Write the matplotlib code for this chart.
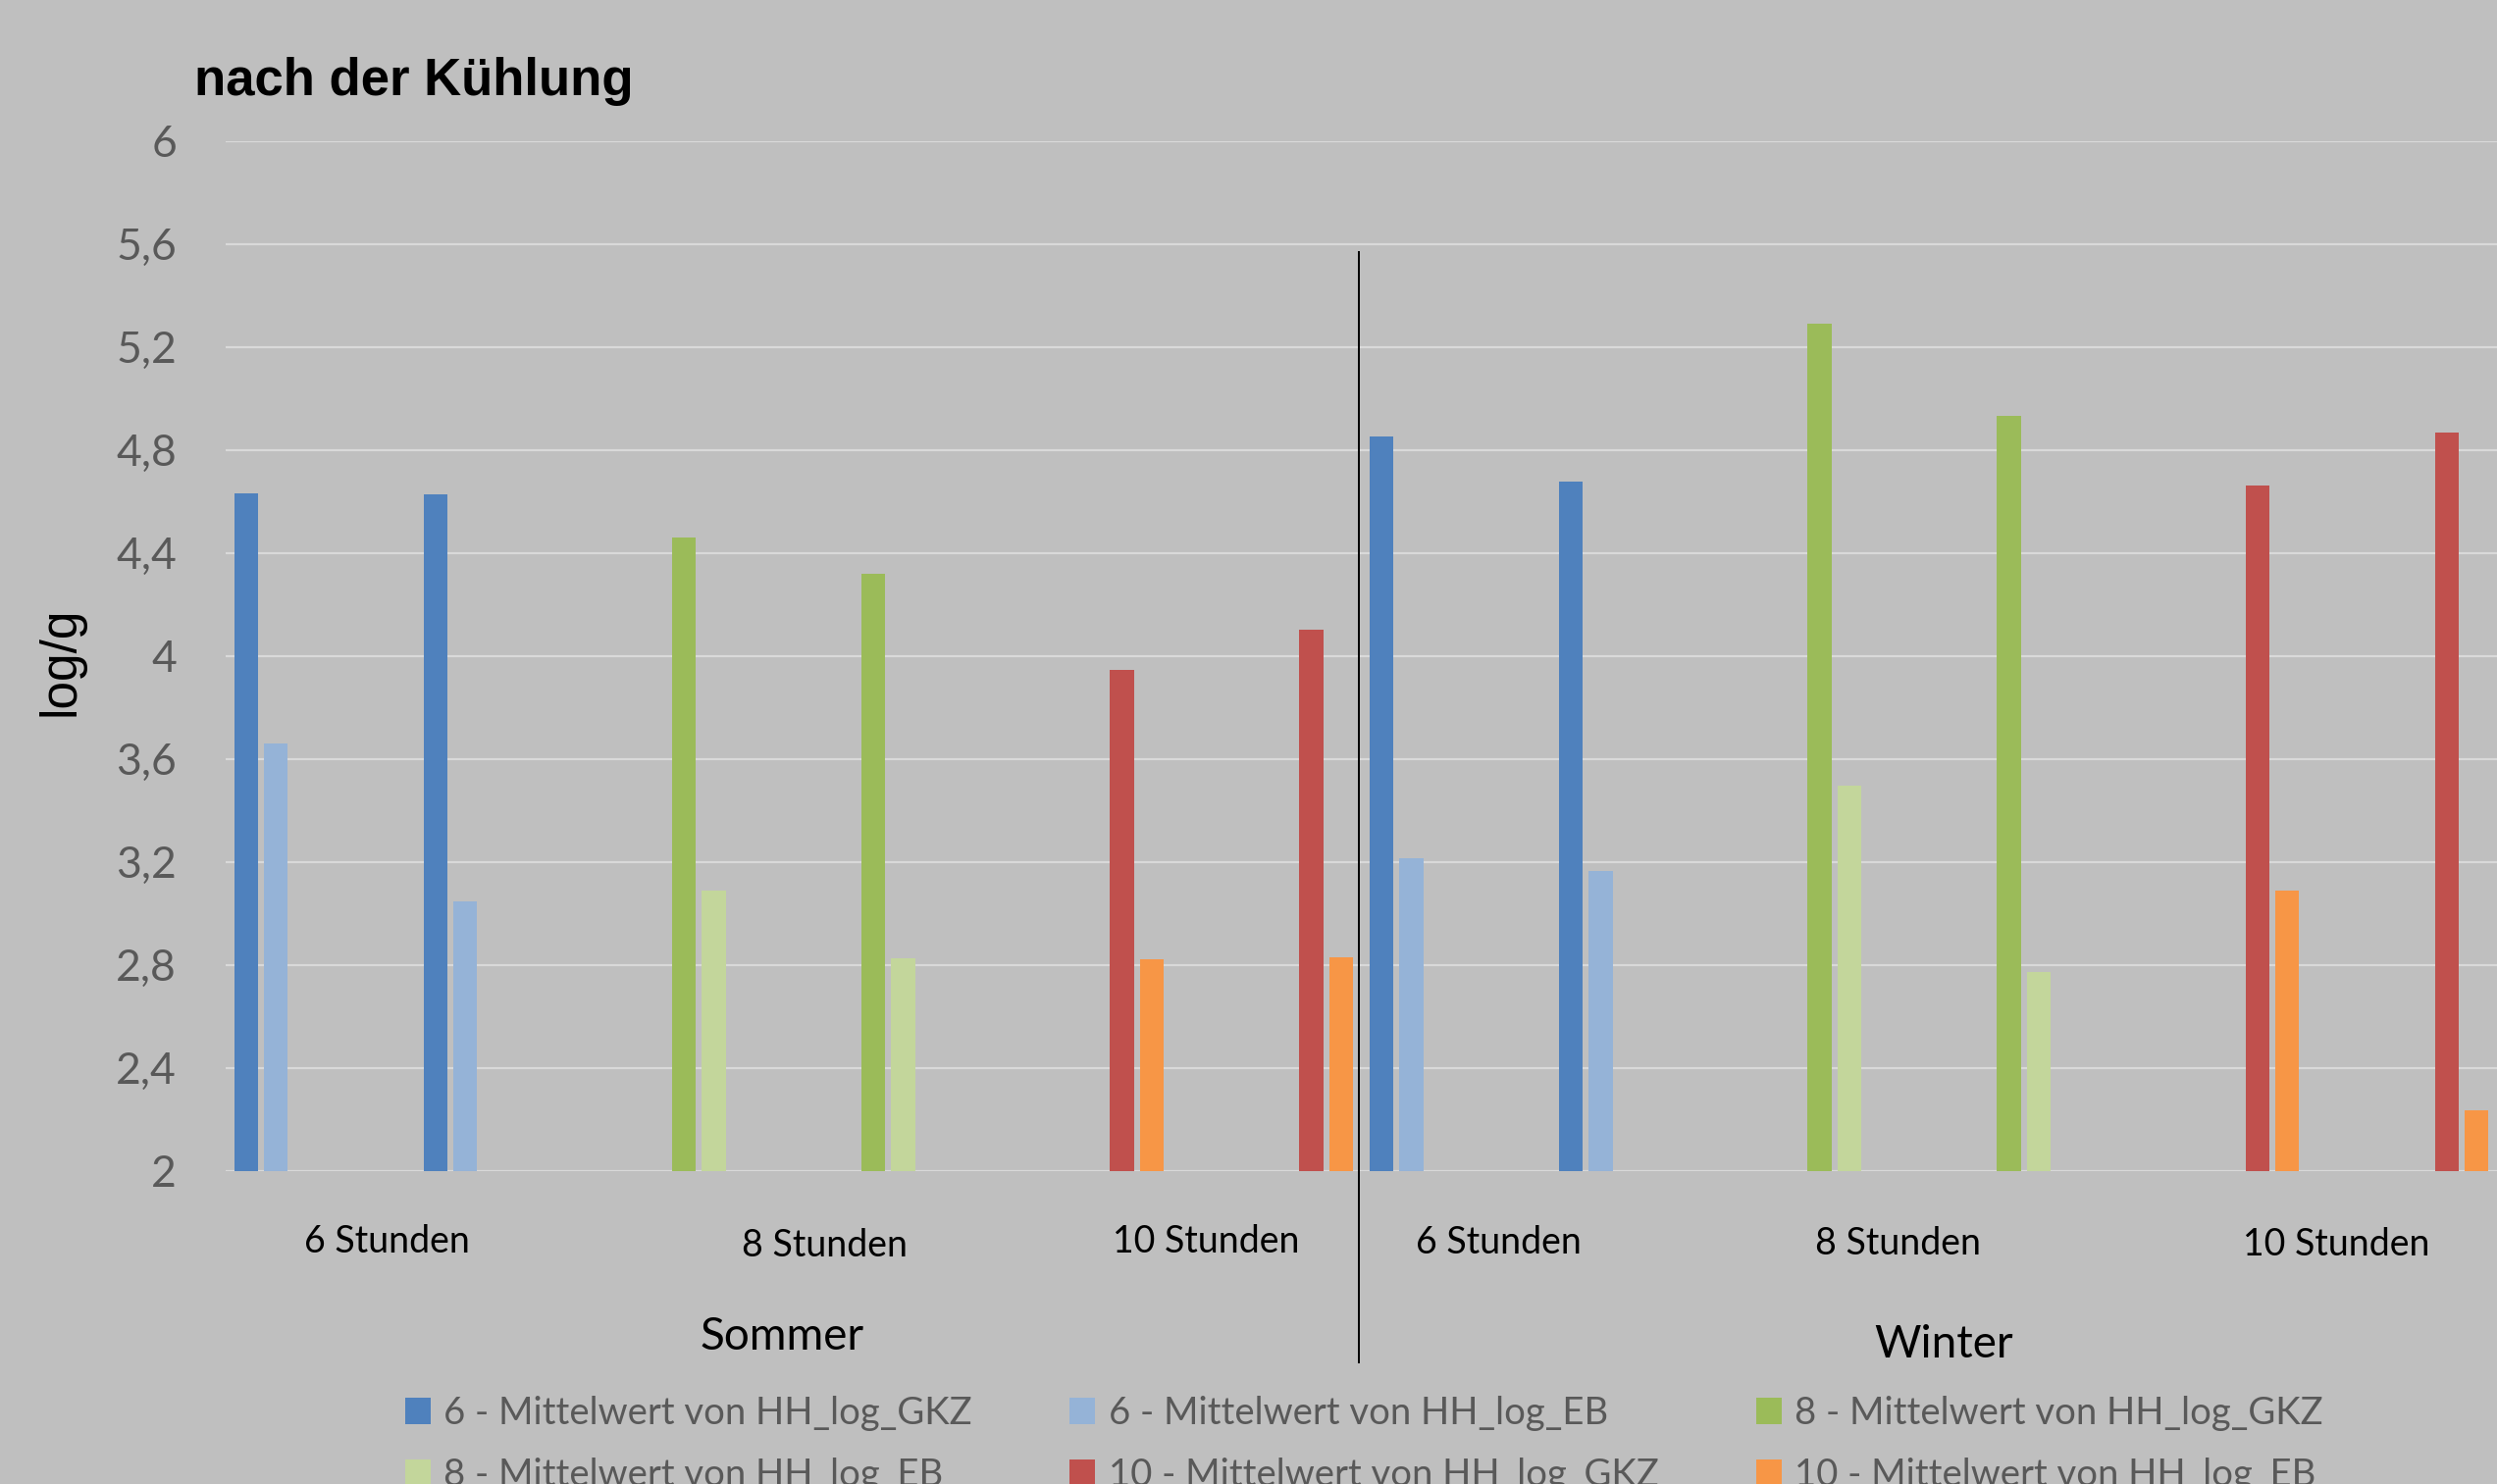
import numpy as np
import matplotlib
matplotlib.use('Agg')
import matplotlib.pyplot as plt
from matplotlib.transforms import blended_transform_factory

nan = np.nan

# 12 categories: Sommer/Winter x 6/8/10 Stunden x 2 groups
n_cat = 12

series_names = ['6 - Mittelwert von HH_log_GKZ', '6 - Mittelwert von HH_log_EB',
                '8 - Mittelwert von HH_log_GKZ', '8 - Mittelwert von HH_log_EB',
                '10 - Mittelwert von HH_log_GKZ', '10 - Mittelwert von HH_log_EB']
series_colors = ['#4F81BD', '#95B3D7', '#9BBB59', '#C3D69B', '#C0504D', '#F79646']

gkz_6 = [4.630, 4.626, nan, nan, nan, nan, 4.852, 4.676, nan, nan, nan, nan]
eb_6 = [3.660, 3.046, nan, nan, nan, nan, 3.214, 3.166, nan, nan, nan, nan]
gkz_8 = [nan, nan, 4.458, 4.319, nan, nan, nan, nan, 5.288, 4.931, nan, nan]
eb_8 = [nan, nan, 3.088, 2.824, nan, nan, nan, nan, 3.497, 2.773, nan, nan]
gkz_10 = [nan, nan, nan, nan, 3.944, 4.103, nan, nan, nan, nan, 4.661, 4.865]
eb_10 = [nan, nan, nan, nan, 2.823, 2.829, nan, nan, nan, nan, 3.089, 2.235]
all_series = [gkz_6, eb_6, gkz_8, eb_8, gkz_10, eb_10]

hour_labels = ['6 Stunden', '8 Stunden', '10 Stunden', '6 Stunden', '8 Stunden', '10 Stunden']
season_labels = ['Sommer', 'Winter']
yticks = [2, 2.4, 2.8, 3.2, 3.6, 4, 4.4, 4.8, 5.2, 5.6, 6]

W, H = 2545, 1513
bg = '#BFBFBF'
fig = plt.figure(figsize=(W / 100, H / 100), dpi=100, facecolor=bg)

def fx(px):
    return px / W

def fy(py):
    return 1 - py / H

ax = fig.add_axes([fx(230), fy(1193.7), fx(2545) - fx(230), fy(143.5) - fy(1193.7)])
ax.set_facecolor(bg)

x = np.arange(n_cat)
slot = 0.157
bw = 0.126
for i, vals in enumerate(all_series):
    ax.bar(x + (i - 2.5) * slot, vals, width=bw, color=series_colors[i],
           label=series_names[i], zorder=3, linewidth=0)

ax.set_xlim(-0.5, n_cat - 0.5)
ax.set_ylim(2, 6)
ax.set_yticks(yticks)
ax.set_yticklabels([('%g' % t).replace('.', ',') for t in yticks],
                   fontsize=32, color='#595959', family='Lato')
ax.tick_params(axis='y', length=0, pad=36)
ax.set_xticks([])
ax.grid(axis='y', color='#D9D9D9', linewidth=1.6, zorder=0)
for s in ax.spines.values():
    s.set_visible(False)

# divider between Sommer and Winter
tr = blended_transform_factory(ax.transData, ax.transAxes)
ax.plot([5.488, 5.488], [-0.186, 0.8915], transform=tr, clip_on=False,
        color='black', linewidth=1.4, zorder=5)

# title and y label
fig.text(fx(198), fy(97), 'nach der Kühlung', fontsize=38, fontweight='bold',
         family='Liberation Sans', ha='left', va='baseline')
fig.text(fx(62), fy(674), 'log/g', fontsize=37, rotation=90, family='Liberation Sans',
         ha='center', va='center')

# category labels
hour_pos = [(394, 1266), (841, 1270), (1229, 1266), (1527, 1267), (1935, 1268), (2381, 1269)]
for lab, (px, py) in zip(hour_labels, hour_pos):
    fig.text(fx(px), fy(py), lab, fontsize=27, family='Lato', ha='center', va='center')
season_pos = [(797, 1363), (1981, 1371)]
for lab, (px, py) in zip(season_labels, season_pos):
    fig.text(fx(px), fy(py), lab, fontsize=33, family='Lato', ha='center', va='center')

# legend, row-major order in 3 columns
handles, labels = ax.get_legend_handles_labels()
order = [0, 3, 1, 4, 2, 5]
fig.legend([handles[k] for k in order], [labels[k] for k in order], ncol=3,
           loc='upper left', bbox_to_anchor=(fx(413), fy(1423)), frameon=False,
           labelcolor='#595959', prop={'family': 'Lato', 'size': 27.5},
           handlelength=0.68, handleheight=0.68, handletextpad=0.35,
           columnspacing=2.6, labelspacing=0.7, borderpad=0, borderaxespad=0)

fig.savefig('out.png', dpi=100, facecolor=bg)
